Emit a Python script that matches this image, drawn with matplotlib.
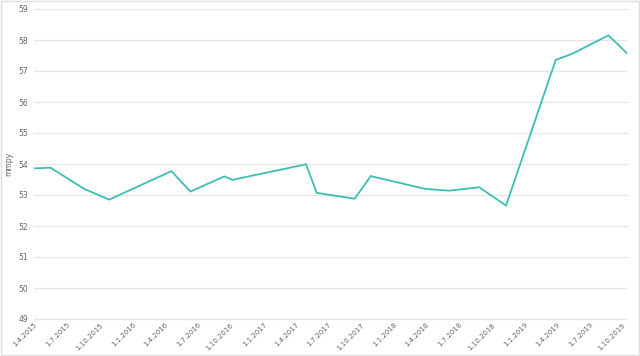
import pandas as pd
import matplotlib
matplotlib.use("Agg")
import matplotlib.pyplot as plt
from matplotlib.patches import Rectangle

# data
dates = ["2015-04-01", "2015-05-17", "2015-08-19", "2015-10-28", "2016-04-19",
         "2016-06-11", "2016-09-14", "2016-10-07", "2017-04-30", "2017-05-30",
         "2017-09-13", "2017-10-28", "2018-03-28", "2018-06-03", "2018-08-27",
         "2018-11-10", "2019-03-29", "2019-05-13", "2019-08-23", "2019-10-14"]
values = [53.86, 53.88, 53.20, 52.85, 53.77,
          53.11, 53.60, 53.49, 53.99, 53.07,
          52.88, 53.61, 53.20, 53.14, 53.25,
          52.66, 57.36, 57.55, 58.15, 57.57]

tick_dates = pd.date_range("2015-04-01", "2019-10-01", freq="QS-JAN")
tick_labels = ["%d.%d.%d" % (d.day, d.month, d.year) for d in tick_dates]
y_ticks = list(range(49, 60))
y_label = "mmpy"

x = pd.to_datetime(dates)

fig = plt.figure(figsize=(6.4, 3.56), dpi=100)
ax = fig.add_axes([34 / 640, 1 - 319 / 356, (627 - 34) / 640, (319 - 9) / 356])

ax.plot(x, values, color="#3bbfb4", linewidth=1.3, solid_joinstyle="miter")

ax.set_xlim(x[0], x[-1])
ax.set_ylim(49, 59)
ax.set_yticks(y_ticks)
ax.set_xticks(tick_dates)
ax.set_xticklabels(tick_labels, rotation=45, ha="right", va="top",
                   rotation_mode="anchor", fontsize=5)

ax.grid(axis="y", color="#e6e6e6", linewidth=1)
for gl in ax.get_ygridlines():
    gl.set_clip_on(False)
ax.set_axisbelow(True)
for s in ax.spines.values():
    s.set_visible(False)
ax.tick_params(axis="both", length=0, labelcolor="#666666")
ax.tick_params(axis="y", pad=4, labelsize=5.5)
ax.tick_params(axis="x", pad=2)
ax.set_ylabel(y_label, fontsize=5.5, color="#666666", labelpad=4)

# light frame around the whole picture
fig.patches.append(Rectangle((0.001, 0.002), 0.997, 0.995, transform=fig.transFigure,
                             fill=False, edgecolor="#e0e0e0", linewidth=1))

plt.savefig("out.png", dpi=100)
